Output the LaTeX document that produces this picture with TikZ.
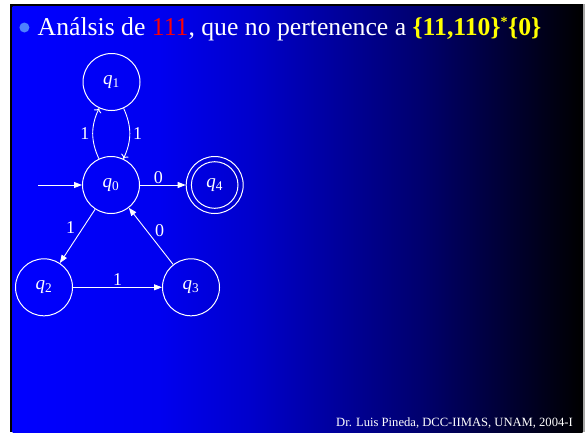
\documentclass[tikz,border=0pt]{standalone}
\usepackage{fontspec}
\setmainfont{Liberation Serif}
\usetikzlibrary{arrows.meta}
\pgfdeclarehorizontalshading{bgshade}{100bp}{rgb(0bp)=(0,0,1); rgb(25bp)=(0,0,1); rgb(37.9bp)=(0,0,0.94); rgb(45.8bp)=(0,0,0.8); rgb(60.8bp)=(0,0,0.43); rgb(75bp)=(0,0,0); rgb(100bp)=(0,0,0)}
\definecolor{bulletc}{RGB}{77,128,255}
\definecolor{titlered}{RGB}{255,0,0}
\definecolor{titleyellow}{RGB}{255,255,0}
\begin{document}
\begin{tikzpicture}[x=1pt,y=1pt,
  state/.style={circle, draw=white, line width=1pt, minimum size=57pt, inner sep=0pt, text=white, font=\fontsize{19}{19}\selectfont},
  edge/.style={draw=white, line width=0.9pt, -{Triangle[length=8pt,width=6pt]}},
  loopedge/.style={draw=white, line width=0.9pt, -{To[length=4pt,width=8pt]}},
  lbl/.style={text=white, font=\fontsize{18}{18}\selectfont, inner sep=1pt}
]
\useasboundingbox (0,0) rectangle (586,-432);
\fill[white] (0,0) rectangle (586,-432);
\fill[black] (10,-4) rectangle (583,-432);
\fill[gray!70] (582.5,-4) rectangle (584.5,-432);
\shade[shading=bgshade] (12.5,-6.5) rectangle (582.5,-432);

% title
\fill[bulletc] (24.4,-27.5) circle (5);
\node[anchor=base west, inner sep=0pt, text=white, font=\fontsize{25.7}{30}\selectfont] (title) at (37.5,-35.5)
  {Análsis de \textcolor{titlered}{111}, que no pertenence a \textcolor{titleyellow}{\bfseries\{11,110\}\textsuperscript{\normalfont\bfseries\fontsize{14}{14}\selectfont *}\{0\}}};

% states
\node[state] (q1) at (111.5,-82) {\textit{q}\textsubscript{1}};
\node[state] (q0) at (111,-185) {\textit{q}\textsubscript{0}};
\node[state] (q4) at (214.7,-185) {\textit{q}\textsubscript{4}};
\draw[white, line width=1pt] (q4.center) circle (23.3);
\node[state] (q2) at (44,-287.3) {\textit{q}\textsubscript{2}};
\node[state] (q3) at (191,-287.3) {\textit{q}\textsubscript{3}};
\coordinate (start) at (38,-185);

% edges
\draw[edge] (start) -- (q0);
\draw[edge] (q0) -- node[lbl, pos=0.4, above] {0} (q4);
\draw[loopedge] (q0) to[bend left=25] node[lbl, left=2pt] {1} (q1);
\draw[loopedge] (q1) to[bend left=25] node[lbl, right=2pt] {1} (q0);
\draw[edge] (q0) -- node[lbl, pos=0.5, above left=1pt] {1} (q2);
\draw[edge] (q2) -- node[lbl, above] {1} (q3);
\draw[edge] (q3) -- node[lbl, pos=0.6, right=7pt] {0} (q0);

% footer
\node[anchor=base east, inner sep=0pt, text=white, font=\fontsize{12.6}{13}\selectfont] (footer) at (573,-426.5)
  {Dr. Luis Pineda, DCC-IIMAS, UNAM, 2004-I};
\end{tikzpicture}
\end{document}
